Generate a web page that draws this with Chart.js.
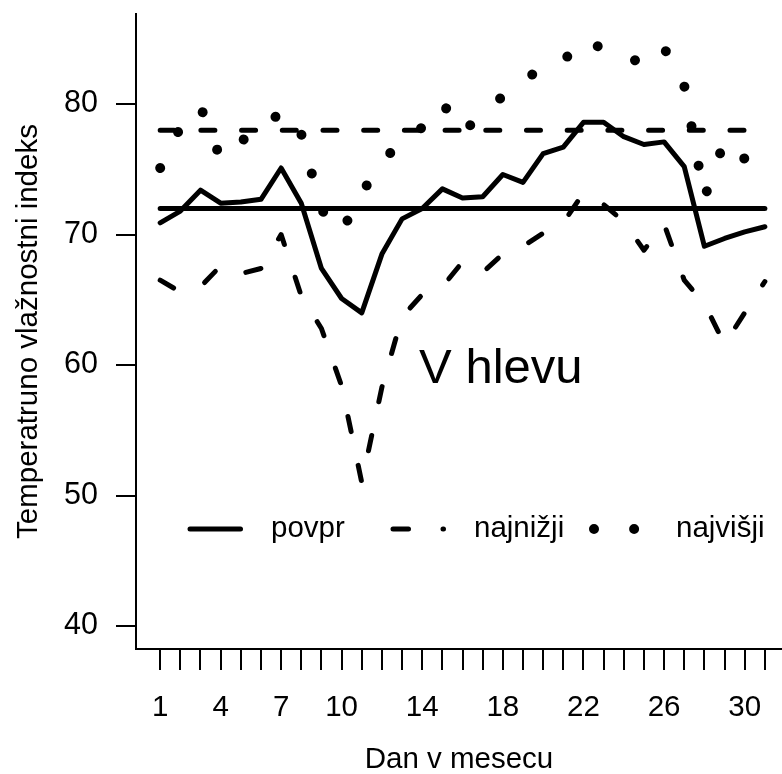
<!DOCTYPE html>
<html>
<head>
<meta charset="utf-8">
<script src="https://cdn.jsdelivr.net/npm/chart.js@4.4.1/dist/chart.umd.min.js"></script>
<style>
  html, body { margin: 0; padding: 0; background: #fff; overflow: hidden; }
</style>
</head>
<body>
<canvas id="hlev" width="782" height="774"></canvas>
<script>
// podatki: temperaturno vlažnostni indeks v hlevu po dnevih
const dnevi = [1, 2, 3, 4, 5, 6, 7, 8, 9, 10, 11, 12, 13, 14, 15, 16,
               17, 18, 19, 20, 21, 22, 23, 24, 25, 26, 27, 28, 29, 30, 31];
const povpr = [70.9, 71.8, 73.4, 72.4, 72.5, 72.7, 75.1, 72.4, 67.4, 65.1, 64.0, 68.5, 71.2, 72.0, 73.5, 72.8,
               72.9, 74.6, 74.0, 76.2, 76.7, 78.6, 78.6, 77.5, 76.9, 77.1, 75.2, 69.1, 69.7, 70.2, 70.6];
const najnizji = [66.5, 65.6, 66.0, 67.6, 67.0, 67.4, 70.0, 65.3, 62.8, 58.4, 51.0, 58.3, 63.7, 65.4, 66.0, 67.9,
                  67.1, 68.5, 69.1, 70.1, 70.9, 73.2, 72.3, 71.0, 68.8, 70.8, 66.5, 64.7, 61.6, 64.0, 66.4];
const najvisji = [75.1, 78.2, 79.8, 75.8, 77.2, 77.8, 79.5, 77.7, 71.9, 70.2, 73.2, 75.5, 77.3, 78.2, 80.1, 77.8,
                  79.3, 80.6, 81.8, 82.8, 83.3, 85.0, 84.2, 83.8, 83.0, 84.3, 81.4, 72.8, 77.2, 75.8, 76.3];
// mejni črti čez cel mesec
const mejaSpodnja = [72, 72];
const mejaZgornja = [78, 78];
const mejaDnevi = [1, 31];

const oznakeX = [1, 4, 7, 10, 14, 18, 22, 26, 30];
const oznakeY = [40, 50, 60, 70, 80];

const pisava = "'Liberation Sans', Arial, sans-serif";
Chart.defaults.font.family = pisava;
Chart.defaults.color = '#000';

const tocke = (xs, ys) => xs.map((x, i) => ({ x: x, y: ys[i] }));

// brez dodatnega roba zaradi oznak, da je risalna ploskev tam kot v R
const brezRoba = s => { s.paddingTop = 0; s.paddingBottom = 0; s.paddingLeft = 0; s.paddingRight = 0; };

// legenda v eni vrsti znotraj grafa (kot v R)
const legenda = {
  id: 'legenda',
  afterDraw(chart) {
    const ctx = chart.ctx;
    const y = 529;
    const vzorci = [
      { ds: 0, x: 190, tx: 271 },
      { ds: 1, x: 393, tx: 474 },
      { ds: 2, x: 594, tx: 676 }
    ];
    ctx.save();
    vzorci.forEach(v => {
      const d = chart.data.datasets[v.ds];
      ctx.strokeStyle = '#000';
      ctx.lineWidth = d.borderWidth;
      ctx.lineCap = 'round';
      ctx.setLineDash(d.borderDash || []);
      ctx.beginPath();
      ctx.moveTo(v.x, y);
      ctx.lineTo(v.x + 50.5, y);
      ctx.stroke();
      ctx.setLineDash([]);
      ctx.fillStyle = '#000';
      ctx.font = '29.5px ' + pisava;
      ctx.textBaseline = 'alphabetic';
      ctx.textAlign = 'left';
      ctx.fillText(d.label, v.tx, y + 8);
    });
    ctx.restore();
  }
};

// napis "V hlevu"
const napis = {
  id: 'napis',
  afterDatasetsDraw(chart) {
    const ctx = chart.ctx;
    const px = chart.scales.x.getPixelForValue(18);
    const py = chart.scales.y.getPixelForValue(60);
    ctx.save();
    ctx.fillStyle = '#000';
    ctx.font = '49px ' + pisava;
    ctx.textAlign = 'center';
    ctx.textBaseline = 'alphabetic';
    ctx.fillText('V hlevu', px - 2, py + 17.5);
    ctx.restore();
  }
};

new Chart(document.getElementById('hlev'), {
  type: 'line',
  data: {
    datasets: [
      { label: 'povpr', data: tocke(dnevi, povpr), borderColor: '#000', borderWidth: 5 },
      { label: 'najnižji', data: tocke(dnevi, najnizji), borderColor: '#000', borderWidth: 5,
        borderDash: [15.5, 34.5] },
      { label: 'najvišji', data: tocke(dnevi, najvisji), borderColor: '#000', borderWidth: 10,
        borderDash: [0.01, 40.1] },
      { label: 'meja72', data: tocke(mejaDnevi, mejaSpodnja), borderColor: '#000', borderWidth: 5 },
      { label: 'meja78', data: tocke(mejaDnevi, mejaZgornja), borderColor: '#000', borderWidth: 5,
        borderDash: [14, 26.7] }
    ]
  },
  options: {
    responsive: false,
    animation: false,
    devicePixelRatio: 1,
    layout: { padding: { top: 14, left: 0, right: 0, bottom: 0 } },
    elements: {
      point: { radius: 0, hoverRadius: 0 },
      line: { tension: 0, fill: false, borderCapStyle: 'round', borderJoinStyle: 'round' }
    },
    plugins: { legend: { display: false }, tooltip: { enabled: false } },
    scales: {
      x: {
        type: 'linear',
        min: -0.2,
        max: 31.85,
        afterFit: s => { s.height = 125; brezRoba(s); },
        afterBuildTicks: s => { s.ticks = dnevi.map(v => ({ value: v })); },
        grid: { drawOnChartArea: false, drawTicks: true, tickLength: 21, color: '#000', lineWidth: 2 },
        border: { display: true, color: '#000', width: 2 },
        ticks: {
          autoSkip: false, maxRotation: 0, padding: 20, color: '#000',
          font: { size: 29.5 },
          callback: v => oznakeX.includes(v) ? String(v) : ''
        },
        title: { display: true, text: 'Dan v mesecu', color: '#000', font: { size: 29.5 },
                 padding: { top: 0, bottom: -4 } }
      },
      y: {
        min: 38.24,
        max: 86.9,
        afterFit: s => { s.width = 136; brezRoba(s); },
        afterBuildTicks: s => { s.ticks = oznakeY.map(v => ({ value: v })); },
        grid: { drawOnChartArea: false, drawTicks: true, tickLength: 20, color: '#000', lineWidth: 2 },
        border: { display: true, color: '#000', width: 2 },
        ticks: { padding: 18, color: '#000', font: { size: 30.5 } },
        title: { display: true, text: 'Temperatruno vlažnostni indeks', color: '#000', font: { size: 29.5 },
                 padding: { top: 11.5, bottom: 0 } }
      }
    }
  },
  plugins: [napis, legenda]
});
</script>
</body>
</html>
